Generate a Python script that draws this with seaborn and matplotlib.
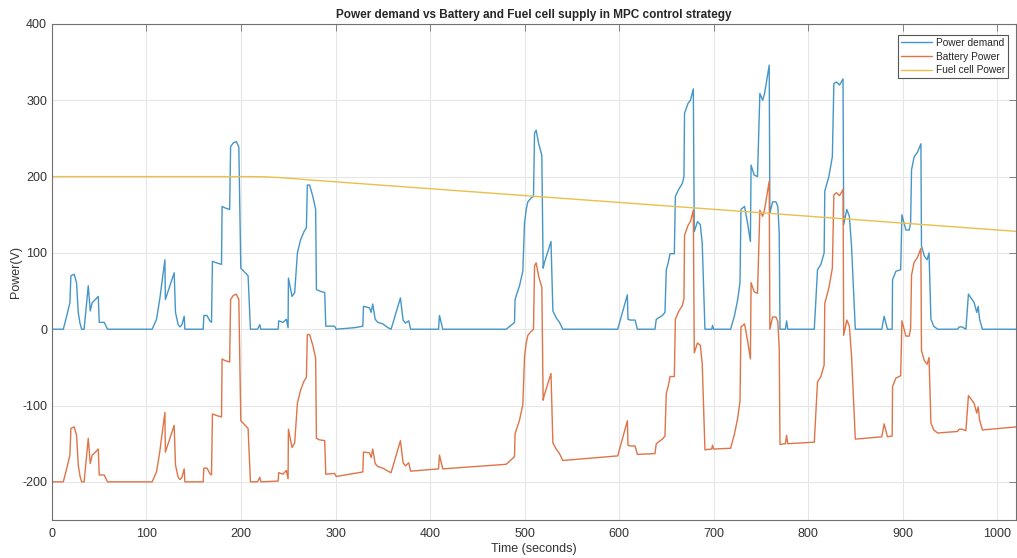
import pandas as pd
import numpy as np
import seaborn as sns
import matplotlib.pyplot as plt

sns.set_style("whitegrid")
plt.rcParams["font.family"] = ["Liberation Sans", "DejaVu Sans"]
plt.rcParams["axes.unicode_minus"] = False

# time stamps (seconds) shared by demand and battery traces
time_s = [0, 12, 15.5, 19, 20, 23.5, 26, 27.8, 29.6, 31.4, 34, 38.4, 40.5, 42.6, 46, 49, 50, 55.3, 58.8,
          106, 110.6, 114, 119.5, 120, 129.3, 130.7, 133.5, 135.5, 137.5, 139.9, 140.6,
          160, 160.7, 164, 167, 168.8, 169.8, 174, 179.4, 180, 183, 188, 189, 191.7, 195, 197.7,
          199.8, 203, 207.5, 210, 217.5, 219.9, 221, 239.3, 239.9, 244.5, 248, 249.8, 250.2, 254,
          256.8, 259.7, 263, 266.7, 269.2, 270.2, 272.6, 276, 279, 279.8, 283.3, 288.6, 289.7, 299,
          300.8, 320, 328.9, 329.6, 336, 337.7, 339.4, 342, 344.8, 350, 355.5, 358.8, 368.7, 371.5,
          374, 377.5, 379.5, 409, 410, 413.5, 480.6, 487.6, 489.4, 490, 494.7, 498.2, 500, 501.8,
          503.5, 507, 509.5, 510.6, 512.3, 515, 518.3, 519.7, 521, 528, 530, 533.5, 537, 540.5,
          598.6, 608.8, 609.5, 612, 617, 619.4, 638, 639.4, 645.8, 648.6, 650, 652, 654, 658.5,
          659.6, 663, 667, 668.7, 669.3, 673, 675.5, 678.6, 679.6, 683, 686, 688, 690.9, 698, 699,
          700, 718, 722, 725.6, 728, 729, 732.8, 736, 739, 739.7, 743, 746.5, 749, 752, 754, 758.9,
          759.6, 762.5, 766, 768, 769.5, 770.3, 776, 777.3, 778.5, 806.6, 810, 813.6, 817, 817.7,
          822, 825.7, 827.3, 830, 833.3, 837, 837.7, 841, 843.7, 846, 850, 878, 880.5, 884, 889,
          889.4, 893, 898, 899.3, 903.5, 907, 908.5, 909.5, 912.3, 915.8, 919.4, 920, 923, 926, 928,
          930, 933, 937, 958, 960, 963, 967, 969.7, 975.7, 978.5, 980, 981.5, 984.5, 1020]

power_demand = [0, 0, 17, 35, 70, 72, 61, 22, 8, 0, 0, 57, 24, 35, 39, 43, 9, 9, 0,
                0, 13, 39, 91, 39, 74, 22, 6, 3, 6, 17, 0,
                0, 18, 18, 11, 9, 89, 87, 85, 161, 159, 157, 239, 244, 246, 239,
                80, 76, 70, 0, 0, 6, 0, 0, 11, 9, 13, 2, 67, 43,
                48, 100, 117, 128, 133, 189, 189, 174, 157, 52, 50, 48, 4, 4,
                0, 2, 4, 30, 28, 22, 33, 13, 9, 7, 2, 0, 41, 12,
                8, 11, 0, 0, 18, 0, 0, 7, 9, 39, 57, 76, 139, 157,
                167, 172, 174, 257, 261, 243, 228, 80, 87, 115, 24, 15, 9, 0,
                0, 45, 13, 12, 12, 0, 0, 13, 18, 22, 78, 87, 99, 99,
                174, 183, 191, 200, 283, 296, 300, 315, 128, 141, 137, 113, 0, 0, 5,
                0, 0, 17, 39, 61, 157, 161, 139, 115, 215, 202, 200, 309, 300, 309, 346,
                152, 167, 167, 161, 126, 0, 0, 11, 0, 0, 78, 85, 100, 181,
                200, 226, 322, 324, 320, 328, 137, 157, 148, 109, 0, 0, 17, 0, 0,
                65, 76, 78, 150, 130, 130, 139, 209, 226, 232, 243, 109, 96, 91, 100,
                13, 4, 0, 0, 3, 3, 0, 46, 35, 22, 30, 13, 0, 0]

battery_power = [-200, -200, -183, -165, -130, -128, -139, -178, -192, -200, -200, -143, -176, -165,
                 -161, -157, -191, -191, -200,
                 -200, -187, -161, -109, -161, -126, -178, -194, -197, -194, -183, -200,
                 -200, -182, -182, -189, -191, -111, -113, -115, -39, -41, -43, 39, 44, 46, 39,
                 -120, -124, -130, -200, -200, -194, -200, -199, -188, -190, -185, -196, -131, -155,
                 -149, -97, -80, -68, -63, -7, -7, -21, -38, -143, -145, -146, -190, -189,
                 -193, -189, -187, -161, -162, -168, -157, -176, -180, -182, -186, -188, -146, -175,
                 -179, -175, -186, -183, -165, -183, -177, -169, -167, -137, -119, -99, -36, -18,
                 -8, -3, 0, 83, 87, 69, 55, -93, -86, -58, -149, -157, -163, -172,
                 -166, -120, -152, -153, -153, -164, -163, -150, -144, -140, -84, -75, -62, -62,
                 13, 23, 31, 40, 123, 136, 141, 156, -31, -18, -21, -45, -158, -157, -152,
                 -157, -156, -138, -116, -94, 3, 7, -15, -39, 61, 49, 47, 156, 148, 157, 194,
                 0, 16, 16, 10, -25, -151, -150, -139, -150, -148, -69, -62, -47, 34,
                 54, 80, 176, 179, 175, 183, -8, 12, 4, -35, -144, -141, -124, -141, -140,
                 -75, -64, -61, 11, -9, -9, 1, 71, 88, 94, 106, -28, -41, -46, -37,
                 -123, -132, -136, -134, -131, -131, -133, -87, -97, -110, -102, -119, -132, -128]

fuel_time = [0, 210, 225, 240, 255, 270, 1020]
fuel_power = [200, 200, 199.7, 198.8, 197.5, 195.9, 128.3]

demand_df = pd.DataFrame({"t": time_s, "p": power_demand})
battery_df = pd.DataFrame({"t": time_s, "p": battery_power})
fuel_df = pd.DataFrame({"t": fuel_time, "p": fuel_power})

fig = plt.figure(figsize=(10.17, 5.58), dpi=100)
ax = fig.add_axes([0.0511, 0.0681, 0.9479, 0.8889])

sns.lineplot(data=demand_df, x="t", y="p", ax=ax, color="#4596c8", lw=1.0,
             estimator=None, sort=False, label="Power demand")
sns.lineplot(data=battery_df, x="t", y="p", ax=ax, color="#de7448", lw=1.0,
             estimator=None, sort=False, label="Battery Power")
sns.lineplot(data=fuel_df, x="t", y="p", ax=ax, color="#ebbf4c", lw=1.0,
             estimator=None, sort=False, label="Fuel cell Power")

ax.set_xlim(0, 1020)
ax.set_ylim(-250, 400)
ax.set_xticks(np.arange(0, 1001, 100))
ax.set_yticks(np.arange(-200, 401, 100))
ax.grid(True, color="#e6e6e6", lw=0.8)
for s in ax.spines.values():
    s.set_color("#707070")
    s.set_linewidth(0.8)
ax.tick_params(direction="in", length=5, width=0.6, colors="#707070",
               labelsize=9, top=True, right=True, labelcolor="#333333")
ax.tick_params(axis="x", pad=6)

ax.set_title("Power demand vs Battery and Fuel cell supply in MPC control strategy",
             fontsize=8.5, fontweight="bold", pad=4)
ax.set_xlabel("Time (seconds)", fontsize=9, labelpad=2, color="#333333")
ax.set_ylabel("Power(V)", fontsize=9, color="#333333")
ax.yaxis.set_label_coords(-0.031, 0.5)

leg = ax.legend(loc="upper right", bbox_to_anchor=(1 - 8 / 964, 1 - 11 / 496),
                borderaxespad=0, fontsize=7.3, handlelength=3.0, labelspacing=0.35,
                fancybox=False, framealpha=1, borderpad=0.3, handletextpad=0.4)
leg.get_frame().set_edgecolor("#555555")
leg.get_frame().set_linewidth(0.8)

fig.savefig("out.png", dpi=100)
